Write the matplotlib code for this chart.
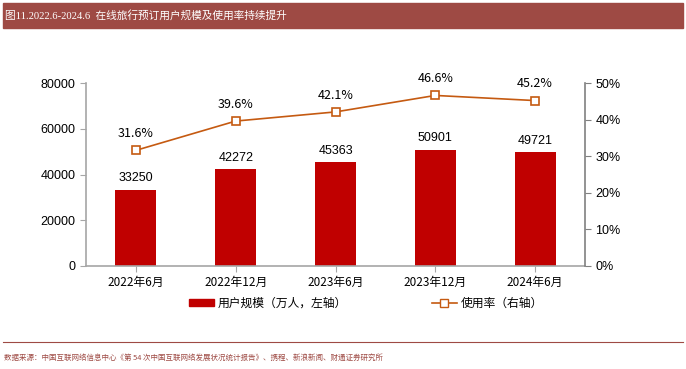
import matplotlib
matplotlib.use('Agg')
import matplotlib.pyplot as plt
from matplotlib.patches import Rectangle
from matplotlib.lines import Line2D
import numpy as np

plt.rcParams['font.family'] = ['Liberation Sans', 'Noto Sans CJK SC', 'DejaVu Sans']

categories = ["2022年6月", "2022年12月", "2023年6月", "2023年12月", "2024年6月"]
users = [33250, 42272, 45363, 50901, 49721]
usage_rate = [31.6, 39.6, 42.1, 46.6, 45.2]

title = "图11.2022.6-2024.6  在线旅行预订用户规模及使用率持续提升"
source = "数据来源：中国互联网络信息中心《第 54 次中国互联网络发展状况统计报告》、携程、新浪新闻、财通证券研究所"

bar_color = '#C00000'
line_color = '#C55A11'
banner = '#9E4A44'
axis_gray = '#A6A6A6'

fig = plt.figure(figsize=(6.86, 3.69), dpi=100)

# title banner
fig.patches.append(Rectangle((3 / 686, 1 - 28 / 369), 680 / 686, 25 / 369,
                             transform=fig.transFigure, color=banner, zorder=0))
fig.text(5 / 686, 1 - 15.5 / 369, title, color='white', fontsize=7.7,
         va='center', ha='left', family=['Liberation Serif', 'Noto Sans CJK SC'])

# bottom rule + source
fig.add_artist(Line2D([3 / 686, 683 / 686], [1 - 342 / 369] * 2,
                      transform=fig.transFigure, color=banner, lw=0.8))
fig.text(4 / 686, 1 - 358 / 369, source, color=banner, fontsize=5.4,
         va='center', ha='left', family=['Noto Sans CJK SC'])

ax = fig.add_axes([86 / 686, 1 - 266 / 369, 499 / 686, 183 / 369])
x = np.arange(len(categories))
ax.bar(x, users, width=0.41, color=bar_color, zorder=2)
ax.set_xlim(-0.5, len(categories) - 0.5)
ax.set_ylim(0, 80000)
ax.set_yticks(np.arange(0, 80001, 20000))
ax.set_xticks(x)
ax.set_xticklabels(categories, family=['Noto Sans CJK SC'], fontsize=8.5)
ax.tick_params(axis='y', labelsize=9, colors='black', length=4, color=axis_gray)
ax.tick_params(axis='x', length=4, color=axis_gray, direction='out')
for s in ['top', 'right']:
    ax.spines[s].set_visible(False)
for s in ['left', 'bottom']:
    ax.spines[s].set_color(axis_gray)
    ax.spines[s].set_linewidth(1.2)
for xi, v in zip(x, users):
    ax.text(xi, v + 2500, f"{v}", ha='center', va='bottom', fontsize=9)

ax2 = ax.twinx()
ax2.plot(x, usage_rate, color=line_color, lw=1.2, marker='s', markersize=6,
         markerfacecolor='white', markeredgecolor=line_color, markeredgewidth=1.2, zorder=3)
ax2.set_ylim(0, 50)
ax2.set_yticks(np.arange(0, 51, 10))
ax2.set_yticklabels([f"{t}%" for t in range(0, 51, 10)])
ax2.tick_params(axis='y', labelsize=9, length=4, color='#808080')
for s in ['top', 'left', 'bottom']:
    ax2.spines[s].set_visible(False)
ax2.spines['right'].set_color('#808080')
ax2.spines['right'].set_linewidth(1.2)
for xi, v in zip(x, usage_rate):
    ax2.text(xi, v + 2.8, f"{v:.1f}%", ha='center', va='bottom', fontsize=9,
             family=['Noto Sans CJK SC'])

# legend
handles = [Rectangle((0, 0), 1, 1, color=bar_color),
           Line2D([], [], color=line_color, lw=1.2, marker='s', markersize=6,
                  markerfacecolor='white', markeredgecolor=line_color)]
fig.legend(handles, ["用户规模（万人，左轴）", "使用率（右轴）"],
           loc='center', bbox_to_anchor=(366 / 686, 1 - 303 / 369), ncol=2, frameon=False,
           prop={'family': 'Noto Sans CJK SC', 'size': 8.5}, columnspacing=7.2,
           handlelength=2.1, handleheight=0.55, handletextpad=0.3)

fig.savefig('out.png', dpi=100)
